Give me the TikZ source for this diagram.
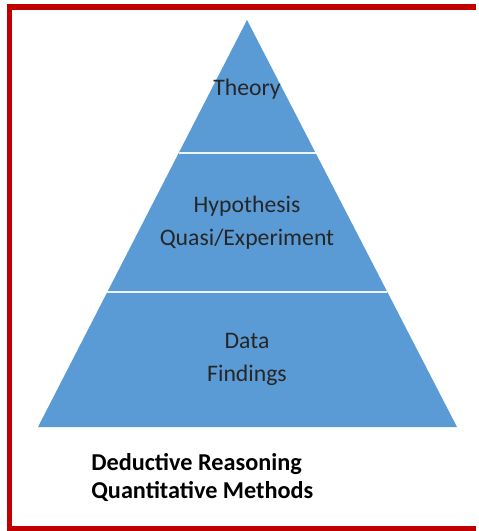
\documentclass[tikz,border=0pt]{standalone}
\usepackage{fontspec}
\setmainfont{Carlito}
\usetikzlibrary{calc,positioning}
\definecolor{pyrblue}{HTML}{5B9BD5}
\definecolor{framered}{HTML}{C00000}
\tikzset{
  layer/.style={fill=pyrblue, draw=none},
  split/.style={draw=white!90!pyrblue, line width=1.2pt},
  lbl/.style={font=\fontsize{13.5}{16}\selectfont, text=black!85, inner sep=0pt, anchor=base},
  note/.style={font=\fontsize{13.8}{16}\selectfont\bfseries, inner sep=0pt, anchor=base west}
}

\begin{document}
\begin{tikzpicture}[x=0.02cm, y=-0.02cm]
  \useasboundingbox (0,0) rectangle (479,531);
  \fill[white] (0,0) rectangle (479,531);
  \draw[framered, line width=3.4pt] (476,7) -- (9.5,7) -- (9.5,529) -- (476,529);
  % pyramid
  \coordinate (apex) at (247,20);
  \coordinate (bl) at (38,427);
  \coordinate (br) at (457,427);
  \fill[layer] (apex) -- (bl) -- (br) -- cycle;
  \coordinate (l1) at ($(apex)!0.3268!(bl)$);
  \coordinate (r1) at ($(apex)!0.3268!(br)$);
  \coordinate (l2) at ($(apex)!0.668!(bl)$);
  \coordinate (r2) at ($(apex)!0.668!(br)$);
  \draw[split] (l1) -- (r1);
  \draw[split] (l2) -- (r2);
  % labels
  \node[lbl] (theory) at (247,95) {Theory};
  \node[lbl] (hyp) at (247,212) {Hypothesis};
  \node[lbl] (quasi) at (247,245) {Quasi/Experiment};
  \node[lbl] (data) at (247,348) {Data};
  \node[lbl] (find) at (247,381) {Findings};
  \node[note] (deduct) at (91,470) {Deductive Reasoning};
  \node[note] (quant) at (91,498) {Quantitative Methods};
\end{tikzpicture}
\end{document}
